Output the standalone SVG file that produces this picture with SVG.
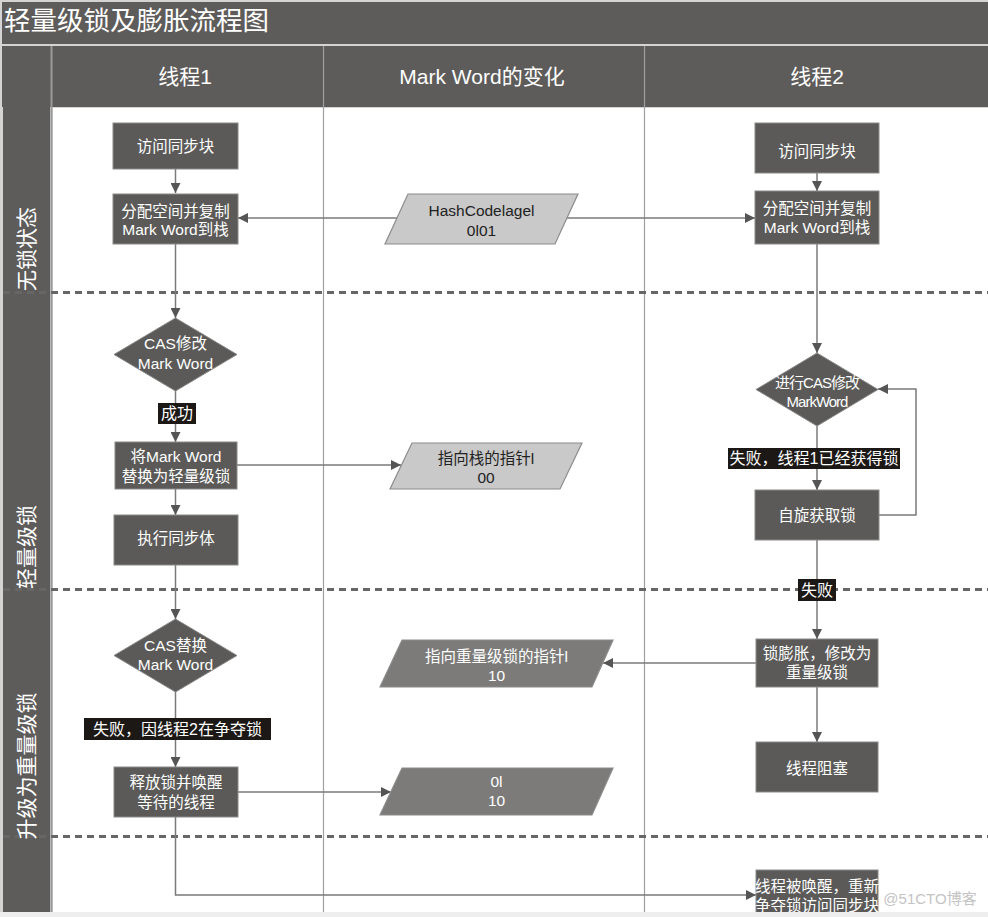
<svg xmlns="http://www.w3.org/2000/svg" width="988" height="917" viewBox="0 0 988 917">
<style>
text{font-family:"Liberation Sans","Noto Sans CJK SC",sans-serif;}
.band{fill:#5e5c5a;}
.title{fill:#fff;font-size:26.5px;}
.hdr{fill:#fff;font-size:21px;text-anchor:middle;dominant-baseline:central;}
.side{fill:#fff;font-size:21px;text-anchor:middle;dominant-baseline:central;}
.box{fill:#5b5a58;stroke:#8a8a8a;stroke-width:1;}
.t{fill:#fff;font-size:15.5px;text-anchor:middle;dominant-baseline:central;}
.tc{fill:#fff;font-size:15px;text-anchor:middle;dominant-baseline:central;letter-spacing:-1px;}
.pl{fill:#c9c9c9;stroke:#8c8c8c;stroke-width:1.2;}
.pd{fill:#7c7b7a;stroke:#8c8c8c;stroke-width:1.2;}
.tk{fill:#222;font-size:15.5px;text-anchor:middle;dominant-baseline:central;}
.lb{fill:#1c1816;}
.lt{fill:#fff;font-size:16px;text-anchor:middle;dominant-baseline:central;}
.c{fill:none;stroke:#7a7a7a;stroke-width:1.5;}
.dash{stroke:#666;stroke-width:3;stroke-dasharray:7 5;}
.div{stroke:#a0a0a0;stroke-width:1.2;}
</style>
<defs>
<marker id="ah" markerUnits="userSpaceOnUse" markerWidth="10" markerHeight="10" refX="10" refY="5" orient="auto">
<path d="M0,0 L10,5 L0,10 z" fill="#555"/>
</marker>
</defs>

<g id="frame">
<rect x="0" y="0" width="988" height="917" fill="#d4d4d4"/>
<rect class="band" x="2" y="2" width="986" height="42"/>
<text class="title" x="4" y="30">轻量级锁及膨胀流程图</text>
<rect class="band" x="2" y="46" width="986" height="61"/>
<rect class="band" x="3" y="46" width="47" height="866"/>
<rect x="53" y="108" width="935" height="804" fill="#ffffff"/>
<line class="div" x1="323.5" y1="46" x2="323.5" y2="912"/>
<line class="div" x1="644.5" y1="46" x2="644.5" y2="912"/>
<line x1="51.5" y1="46" x2="51.5" y2="912" stroke="#9a9a9a" stroke-width="2"/>
<text class="hdr" x="185" y="76">线程1</text>
<text class="hdr" x="482" y="76">Mark Word的变化</text>
<text class="hdr" x="817" y="76">线程2</text>
<line class="dash" x1="3" y1="292.5" x2="988" y2="292.5"/>
<line class="dash" x1="3" y1="589.5" x2="988" y2="589.5"/>
<line class="dash" x1="3" y1="836.5" x2="988" y2="836.5"/>
<text class="side" transform="rotate(-90 26 249)" x="26" y="249">无锁状态</text>
<text class="side" transform="rotate(-90 26 547)" x="26" y="547">轻量级锁</text>
<text class="side" transform="rotate(-90 26 766)" x="26" y="766">升级为重量级锁</text>
</g>

<g id="connectors">
<path class="c" d="M175.5,169 V193" marker-end="url(#ah)"/>
<path class="c" d="M175.5,244 V318" marker-end="url(#ah)"/>
<path class="c" d="M175.5,391 V442" marker-end="url(#ah)"/>
<path class="c" d="M175.5,489 V515" marker-end="url(#ah)"/>
<path class="c" d="M175.5,565 V619" marker-end="url(#ah)"/>
<path class="c" d="M175.5,692 V767" marker-end="url(#ah)"/>
<path class="c" d="M175.5,817 V895 H756" marker-end="url(#ah)"/>
<path class="c" d="M397,218 H238" marker-end="url(#ah)"/>
<path class="c" d="M567,218 H755" marker-end="url(#ah)"/>
<path class="c" d="M237,465 H401" marker-end="url(#ah)"/>
<path class="c" d="M817,173 V191" marker-end="url(#ah)"/>
<path class="c" d="M817,244 V353" marker-end="url(#ah)"/>
<path class="c" d="M817,426 V490" marker-end="url(#ah)"/>
<path class="c" d="M879,515 H916 V389 H878" marker-end="url(#ah)"/>
<path class="c" d="M817,540 V639" marker-end="url(#ah)"/>
<path class="c" d="M756,663 H603" marker-end="url(#ah)"/>
<path class="c" d="M817,687 V742" marker-end="url(#ah)"/>
<path class="c" d="M238,792 H391" marker-end="url(#ah)"/>
</g>

<g id="t1-access">
<rect class="box" x="113" y="123" width="125" height="46"/>
<text class="t" x="175.5" y="146">访问同步块</text>
</g>
<g id="t1-alloc">
<rect class="box" x="113" y="194" width="125" height="50"/>
<text class="t" x="175.5" y="211">分配空间并复制</text>
<text class="t" x="175.5" y="229">Mark Word到栈</text>
</g>
<g id="t1-cas">
<polygon class="box" points="175.5,318 237,354.5 175.5,391 114,354.5"/>
<text class="t" x="175.5" y="343">CAS修改</text>
<text class="t" x="175.5" y="363">Mark Word</text>
</g>
<g id="lbl-success">
<rect class="lb" x="158" y="403" width="38" height="21"/>
<text class="lt" x="177" y="413.5">成功</text>
</g>
<g id="t1-replace">
<rect class="box" x="115" y="442" width="122" height="47"/>
<text class="t" x="176" y="456">将Mark Word</text>
<text class="t" x="176" y="476">替换为轻量级锁</text>
</g>
<g id="t1-exec">
<rect class="box" x="114" y="515" width="124" height="50"/>
<text class="t" x="176" y="538">执行同步体</text>
</g>
<g id="t1-cas2">
<polygon class="box" points="175.5,619 237,655.5 175.5,692 114,655.5"/>
<text class="t" x="175.5" y="645">CAS替换</text>
<text class="t" x="175.5" y="664">Mark Word</text>
</g>
<g id="lbl-fail1">
<rect class="lb" x="84" y="718" width="187" height="22"/>
<text class="lt" x="177.5" y="729">失败，因线程2在争夺锁</text>
</g>
<g id="t1-release">
<rect class="box" x="114" y="767" width="124" height="50"/>
<text class="t" x="176" y="782">释放锁并唤醒</text>
<text class="t" x="176" y="802">等待的线程</text>
</g>

<g id="mw-hash">
<polygon class="pl" points="408,194 578,194 555,244 385,244"/>
<text class="tk" x="481.5" y="210">HashCodelagel</text>
<text class="tk" x="481.5" y="230">0l01</text>
</g>
<g id="mw-stack">
<polygon class="pl" points="412,443 582,443 560,489 390,489"/>
<text class="tk" x="486" y="458">指向栈的指针l</text>
<text class="tk" x="486" y="477">00</text>
</g>
<g id="mw-heavy">
<polygon class="pd" points="402,640 613,640 592,687 380,687"/>
<text class="t" x="496.5" y="656">指向重量级锁的指针l</text>
<text class="t" x="496.5" y="675">10</text>
</g>
<g id="mw-01">
<polygon class="pd" points="402,768 613,768 592,815 380,815"/>
<text class="t" x="496.5" y="781">0l</text>
<text class="t" x="496.5" y="800">10</text>
</g>

<g id="t2-access">
<rect class="box" x="755" y="123" width="124" height="50"/>
<text class="t" x="817" y="151">访问同步块</text>
</g>
<g id="t2-alloc">
<rect class="box" x="755" y="191" width="124" height="53"/>
<text class="t" x="817" y="208">分配空间并复制</text>
<text class="t" x="817" y="227">Mark Word到栈</text>
</g>
<g id="t2-cas">
<polygon class="box" points="817,353 878,389.5 817,426 756,389.5"/>
<text class="tc" x="817" y="382">进行CAS修改</text>
<text class="tc" x="817" y="401">MarkWord</text>
</g>
<g id="lbl-fail2">
<rect class="lb" x="728" y="448" width="172" height="21"/>
<text class="lt" x="814" y="458.5">失败，线程1已经获得锁</text>
</g>
<g id="t2-spin">
<rect class="box" x="755" y="490" width="124" height="50"/>
<text class="t" x="817" y="515">自旋获取锁</text>
</g>
<g id="lbl-fail3">
<rect class="lb" x="798" y="579" width="38" height="22"/>
<text class="lt" x="817" y="590">失败</text>
</g>
<g id="t2-inflate">
<rect class="box" x="756" y="639" width="122" height="48"/>
<text class="t" x="817" y="653">锁膨胀，修改为</text>
<text class="t" x="817" y="672">重量级锁</text>
</g>
<g id="t2-block">
<rect class="box" x="756" y="742" width="122" height="50"/>
<text class="t" x="817" y="768">线程阻塞</text>
</g>
<g id="t2-wake">
<rect class="box" x="756" y="870" width="122" height="50"/>
<text class="t" x="817" y="886">线程被唤醒，重新</text>
<text class="t" x="817" y="905">争夺锁访问同步块</text>
</g>
<rect x="0" y="912" width="988" height="5" fill="#eeeeee"/>
<text x="930" y="898" font-size="15" fill="#c4c4c4" text-anchor="middle" dominant-baseline="central">@51CTO博客</text>
</svg>
